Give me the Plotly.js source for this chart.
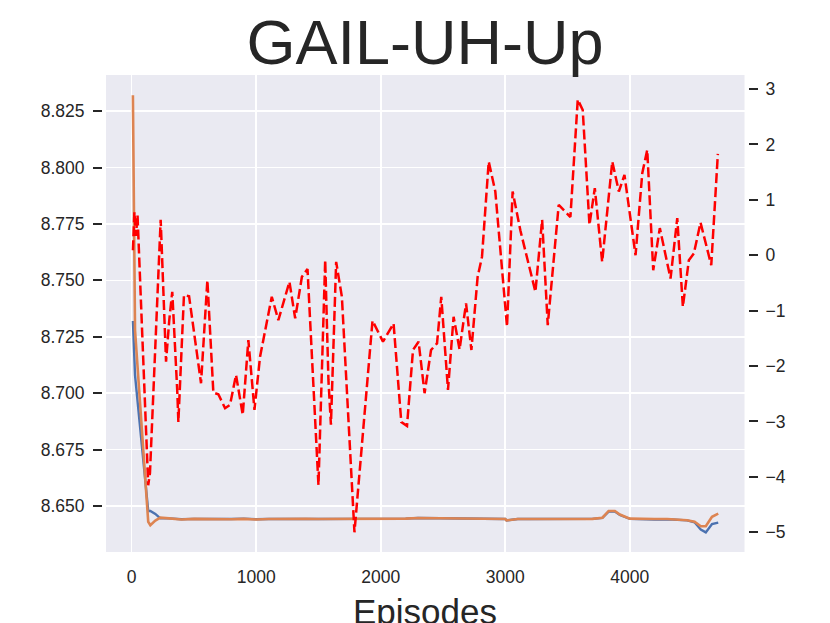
<!DOCTYPE html>
<html>
<head>
<meta charset="utf-8">
<script src="https://cdn.plot.ly/plotly-3.0.1.min.js"></script>
<style>html,body{margin:0;padding:0;background:#fff;}#chart{width:830px;height:623px;}</style>
</head>
<body>
<div id="chart"></div>
<script>
// Reward (right axis, red dashed)
const rewardEpisodes = [10, 22, 35, 47, 133, 147, 233, 276, 302, 326, 367, 375, 420, 461, 557, 608, 656, 696, 750, 790,
  838, 892, 937, 986, 1031, 1125, 1178, 1267, 1313, 1367, 1412, 1500, 1554, 1580, 1600, 1642, 1688, 1789, 1934,
  2018, 2103, 2165, 2211, 2259, 2304, 2352, 2404, 2452, 2486, 2540, 2585, 2633, 2685, 2728, 2778, 2813, 2867,
  2920, 3014, 3059, 3121, 3242, 3296, 3341, 3429, 3523, 3582, 3622, 3676, 3719, 3778, 3859, 3912, 3957,
  4046, 4100, 4140, 4188, 4241, 4327, 4381, 4426, 4474, 4514, 4568, 4654, 4707];
const rewardValues = [0.09, 0.78, 0.35, 0.73, -4.15, -3.93, 0.64, -1.92, -1.17, -0.66, -2.49, -3.01, -0.72, -0.74, -2.31, -0.45, -2.48, -2.51, -2.76, -2.70,
  -2.16, -2.88, -1.53, -2.79, -1.83, -0.75, -1.17, -0.48, -1.14, -0.39, -0.25, -4.15, -0.09, -2.25, -3.06, -0.12, -0.75, -5.0, -1.18,
  -1.56, -1.23, -3.01, -3.08, -1.71, -1.56, -2.49, -1.71, -1.59, -0.75, -2.43, -1.11, -1.70, -0.87, -1.71, -0.39, -0.03, 1.69,
  1.15, -1.29, 1.15, 0.45, -0.66, 0.64, -1.26, 0.91, 0.69, 2.81, 2.62, 0.55, 1.21, -0.12, 1.69, 1.15, 1.45,
  0.0, 1.48, 1.90, -0.27, 0.49, -0.42, 0.67, -0.93, -0.09, 0.03, 0.59, -0.18, 1.83];

// Loss curves (left axis)
const lossEpisodes = [10, 27, 133, 150, 190, 230, 300, 400, 500, 600, 700, 800, 900, 1000, 1100, 1200, 1300, 1400, 1500,
  1600, 1700, 1800, 1900, 2000, 2100, 2200, 2300, 2400, 2500, 2600, 2700, 2800, 2900, 3000, 3010, 3100, 3200, 3300,
  3400, 3500, 3600, 3700, 3780, 3830, 3880, 3920, 4000, 4100, 4200, 4300, 4400, 4460, 4520, 4570, 4610, 4660, 4710];
const blueValues = [8.732, 8.708, 8.6478, 8.6478, 8.6465, 8.6445, 8.6445, 8.6441, 8.6443, 8.6442, 8.6443, 8.6442, 8.6444, 8.6441, 8.6442, 8.6443, 8.6441, 8.6443, 8.6442,
  8.6442, 8.6441, 8.6442, 8.6441, 8.6442, 8.6444, 8.6444, 8.6447, 8.6446, 8.6445, 8.6444, 8.6443, 8.6442, 8.6443, 8.6442, 8.6436, 8.6442, 8.6442, 8.6442,
  8.6442, 8.6442, 8.6442, 8.6443, 8.6447, 8.6475, 8.6475, 8.6460, 8.6443, 8.6440, 8.6440, 8.6441, 8.6439, 8.6436, 8.6428, 8.6395, 8.6383, 8.6420, 8.6426];
const orangeValues = [8.832, 8.728, 8.643, 8.6415, 8.6435, 8.6448, 8.6445, 8.6440, 8.6443, 8.6442, 8.6443, 8.6441, 8.6443, 8.6440, 8.6442, 8.6443, 8.6441, 8.6443, 8.6442,
  8.6442, 8.6441, 8.6442, 8.6441, 8.6442, 8.6444, 8.6444, 8.6447, 8.6446, 8.6445, 8.6444, 8.6443, 8.6442, 8.6443, 8.6442, 8.6436, 8.6442, 8.6442, 8.6442,
  8.6442, 8.6442, 8.6442, 8.6443, 8.6448, 8.6478, 8.6478, 8.6462, 8.6444, 8.6442, 8.6442, 8.6442, 8.6440, 8.6437, 8.6430, 8.6410, 8.6410, 8.6452, 8.6466];

const xTicks = [0, 1000, 2000, 3000, 4000];
const leftTicks = [8.650, 8.675, 8.700, 8.725, 8.750, 8.775, 8.800, 8.825];
const rightTicks = [-5, -4, -3, -2, -1, 0, 1, 2, 3];

const FONT = 'Liberation Sans, Arial, sans-serif';
const TXT = '#262626';

const traces = [
  {x: lossEpisodes, y: blueValues, type: 'scatter', mode: 'lines', line: {color: '#4C72B0', width: 2.4}, yaxis: 'y', showlegend: false},
  {x: lossEpisodes, y: orangeValues, type: 'scatter', mode: 'lines', line: {color: '#DD8452', width: 2.6}, yaxis: 'y', showlegend: false},
  {x: rewardEpisodes, y: rewardValues, type: 'scatter', mode: 'lines', line: {color: '#FF0000', width: 2.5, dash: '10px,4px'}, yaxis: 'y2', showlegend: false}
];

const layout = {
  width: 830, height: 623,
  margin: {l: 102, r: 81.5, t: 75, b: 71, pad: 0},
  paper_bgcolor: '#ffffff',
  plot_bgcolor: '#EAEAF2',
  font: {family: FONT, color: TXT},
  title: {text: 'GAIL-UH-Up', font: {family: FONT, size: 63, color: TXT}, x: 0.5, xref: 'paper', xanchor: 'center', y: 0.932, yref: 'container', yanchor: 'middle'},
  xaxis: {
    domain: [0.0062, 0.9946],
    range: [-206, 4921],
    tickvals: xTicks, ticktext: xTicks.map(String),
    ticks: '', showline: false, zeroline: false,
    showgrid: true, gridcolor: '#ffffff', gridwidth: 1.6,
    ticklabelstandoff: 12,
    tickfont: {family: FONT, size: 17.5, color: TXT}
  },
  yaxis: {
    range: [8.6296, 8.8410],
    anchor: 'free', position: 0,
    tickvals: leftTicks, ticktext: leftTicks.map(v => v.toFixed(3)),
    ticks: 'outside', ticklen: 9, tickwidth: 2, tickcolor: TXT,
    ticklabelstandoff: 5,
    showline: false, zeroline: false,
    showgrid: true, gridcolor: '#ffffff', gridwidth: 1.6,
    tickfont: {family: FONT, size: 17.5, color: TXT}
  },
  yaxis2: {
    range: [-5.3555, 3.2527],
    overlaying: 'y', side: 'right', anchor: 'free', position: 1,
    tickvals: rightTicks, ticktext: rightTicks.map(v => v < 0 ? '\u2212' + Math.abs(v) : String(v)),
    ticks: 'outside', ticklen: 9, tickwidth: 2, tickcolor: TXT,
    ticklabelstandoff: 4,
    showline: false, zeroline: false, showgrid: false,
    tickfont: {family: FONT, size: 17.5, color: TXT}
  },
  annotations: [
    {text: 'Episodes', xref: 'paper', yref: 'paper', x: 0.5, y: -0.079, xanchor: 'center', yanchor: 'top',
     showarrow: false, font: {family: FONT, size: 35, color: TXT}}
  ]
};

Plotly.newPlot('chart', traces, layout, {displayModeBar: false, staticPlot: true});
</script>
</body>
</html>
